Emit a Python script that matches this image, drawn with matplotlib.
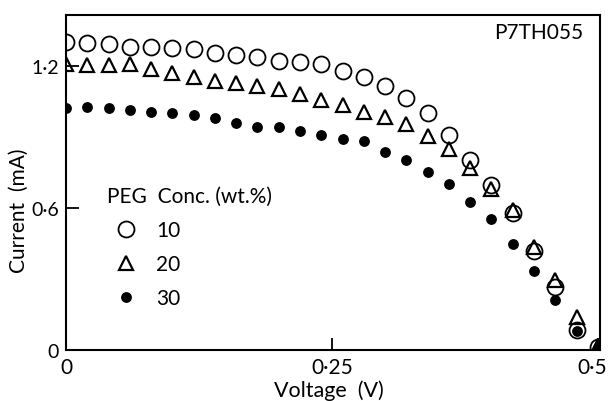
import matplotlib.pyplot as plt
import matplotlib.transforms as mtransforms

plt.rcParams['font.family'] = ['Lato', 'DejaVu Sans']

# voltage steps of the I-V sweep (V)
voltage = [0.00, 0.02, 0.04, 0.06, 0.08, 0.10, 0.12, 0.14, 0.16, 0.18,
           0.20, 0.22, 0.24, 0.26, 0.28, 0.30, 0.32, 0.34, 0.36, 0.38,
           0.40, 0.42, 0.44, 0.46, 0.48, 0.50]

# current (mA) for each PEG concentration
peg10 = [1.299, 1.296, 1.292, 1.281, 1.278, 1.274, 1.270, 1.254, 1.246, 1.239,
         1.222, 1.218, 1.208, 1.177, 1.152, 1.113, 1.064, 1.003, 0.908, 0.804,
         0.695, 0.579, 0.417, 0.265, 0.084, 0.011]
peg20 = [1.208, 1.205, 1.205, 1.208, 1.187, 1.168, 1.152, 1.135, 1.126, 1.115,
         1.102, 1.081, 1.056, 1.035, 1.006, 0.983, 0.954, 0.905, 0.849, 0.767,
         0.680, 0.593, 0.434, 0.296, 0.138, 0.017]
peg30 = [1.021, 1.027, 1.021, 1.015, 1.004, 1.000, 0.992, 0.978, 0.957, 0.944,
         0.940, 0.924, 0.908, 0.891, 0.884, 0.836, 0.802, 0.750, 0.701, 0.626,
         0.553, 0.448, 0.335, 0.211, 0.082, 0.007]

xticks = [0, 0.25, 0.5]
xticklabels = ['0', '0\u00b725', '0\u00b75']
yticks = [0, 0.6, 1.2]
yticklabels = ['0', '0\u00b76', '1\u00b72']

fig = plt.figure(figsize=(6.10, 4.02), dpi=100)
ax = fig.add_axes([0.1082, 0.1269, 0.8754, 0.8333])

ax.plot(voltage, peg10, 'o', ms=11.5, mfc='none', mec='black', mew=1.3, label='10')
ax.plot(voltage, peg20, '^', ms=10.5, mfc='none', mec='black', mew=1.6, label='20')
ax.plot(voltage, peg30, 'o', ms=7.8, mfc='black', mec='black', mew=0, label='30')

ax.set_xlim(0, 0.502)
ax.set_ylim(0, 1.415)
ax.set_xticks(xticks)
ax.set_xticklabels(xticklabels, fontsize=15)
ax.set_yticks(yticks)
ax.set_yticklabels(yticklabels, fontsize=14)
ax.tick_params(direction='in', length=9, width=1.3, pad=5)
for s in ax.spines.values():
    s.set_linewidth(1.5)

# last x label sits a bit left so it stays inside the picture
lab = ax.get_xticklabels()[-1]
lab.set_transform(lab.get_transform() + mtransforms.ScaledTranslation(-6 / 100, 0, fig.dpi_scale_trans))

ax.set_xlabel('Voltage  (V)', fontsize=15.5)
ax.set_ylabel('Current  (mA)', fontsize=15)
ax.xaxis.set_label_coords(0.4925, -0.087)
ax.yaxis.set_label_coords(-0.069, 0.42)

ax.text(0.968, 0.949, 'P7TH055', transform=ax.transAxes, ha='right', va='center', fontsize=15)

leg = ax.legend(title='PEG  Conc. (wt.%)', loc='upper left', bbox_to_anchor=(0.0768, 0.49),
                frameon=False, borderpad=0, borderaxespad=0, numpoints=1,
                handlelength=1.8, handletextpad=0.55, labelspacing=0.68,
                fontsize=15, title_fontsize=15, alignment='left')

fig.savefig('out.png', dpi=100)
